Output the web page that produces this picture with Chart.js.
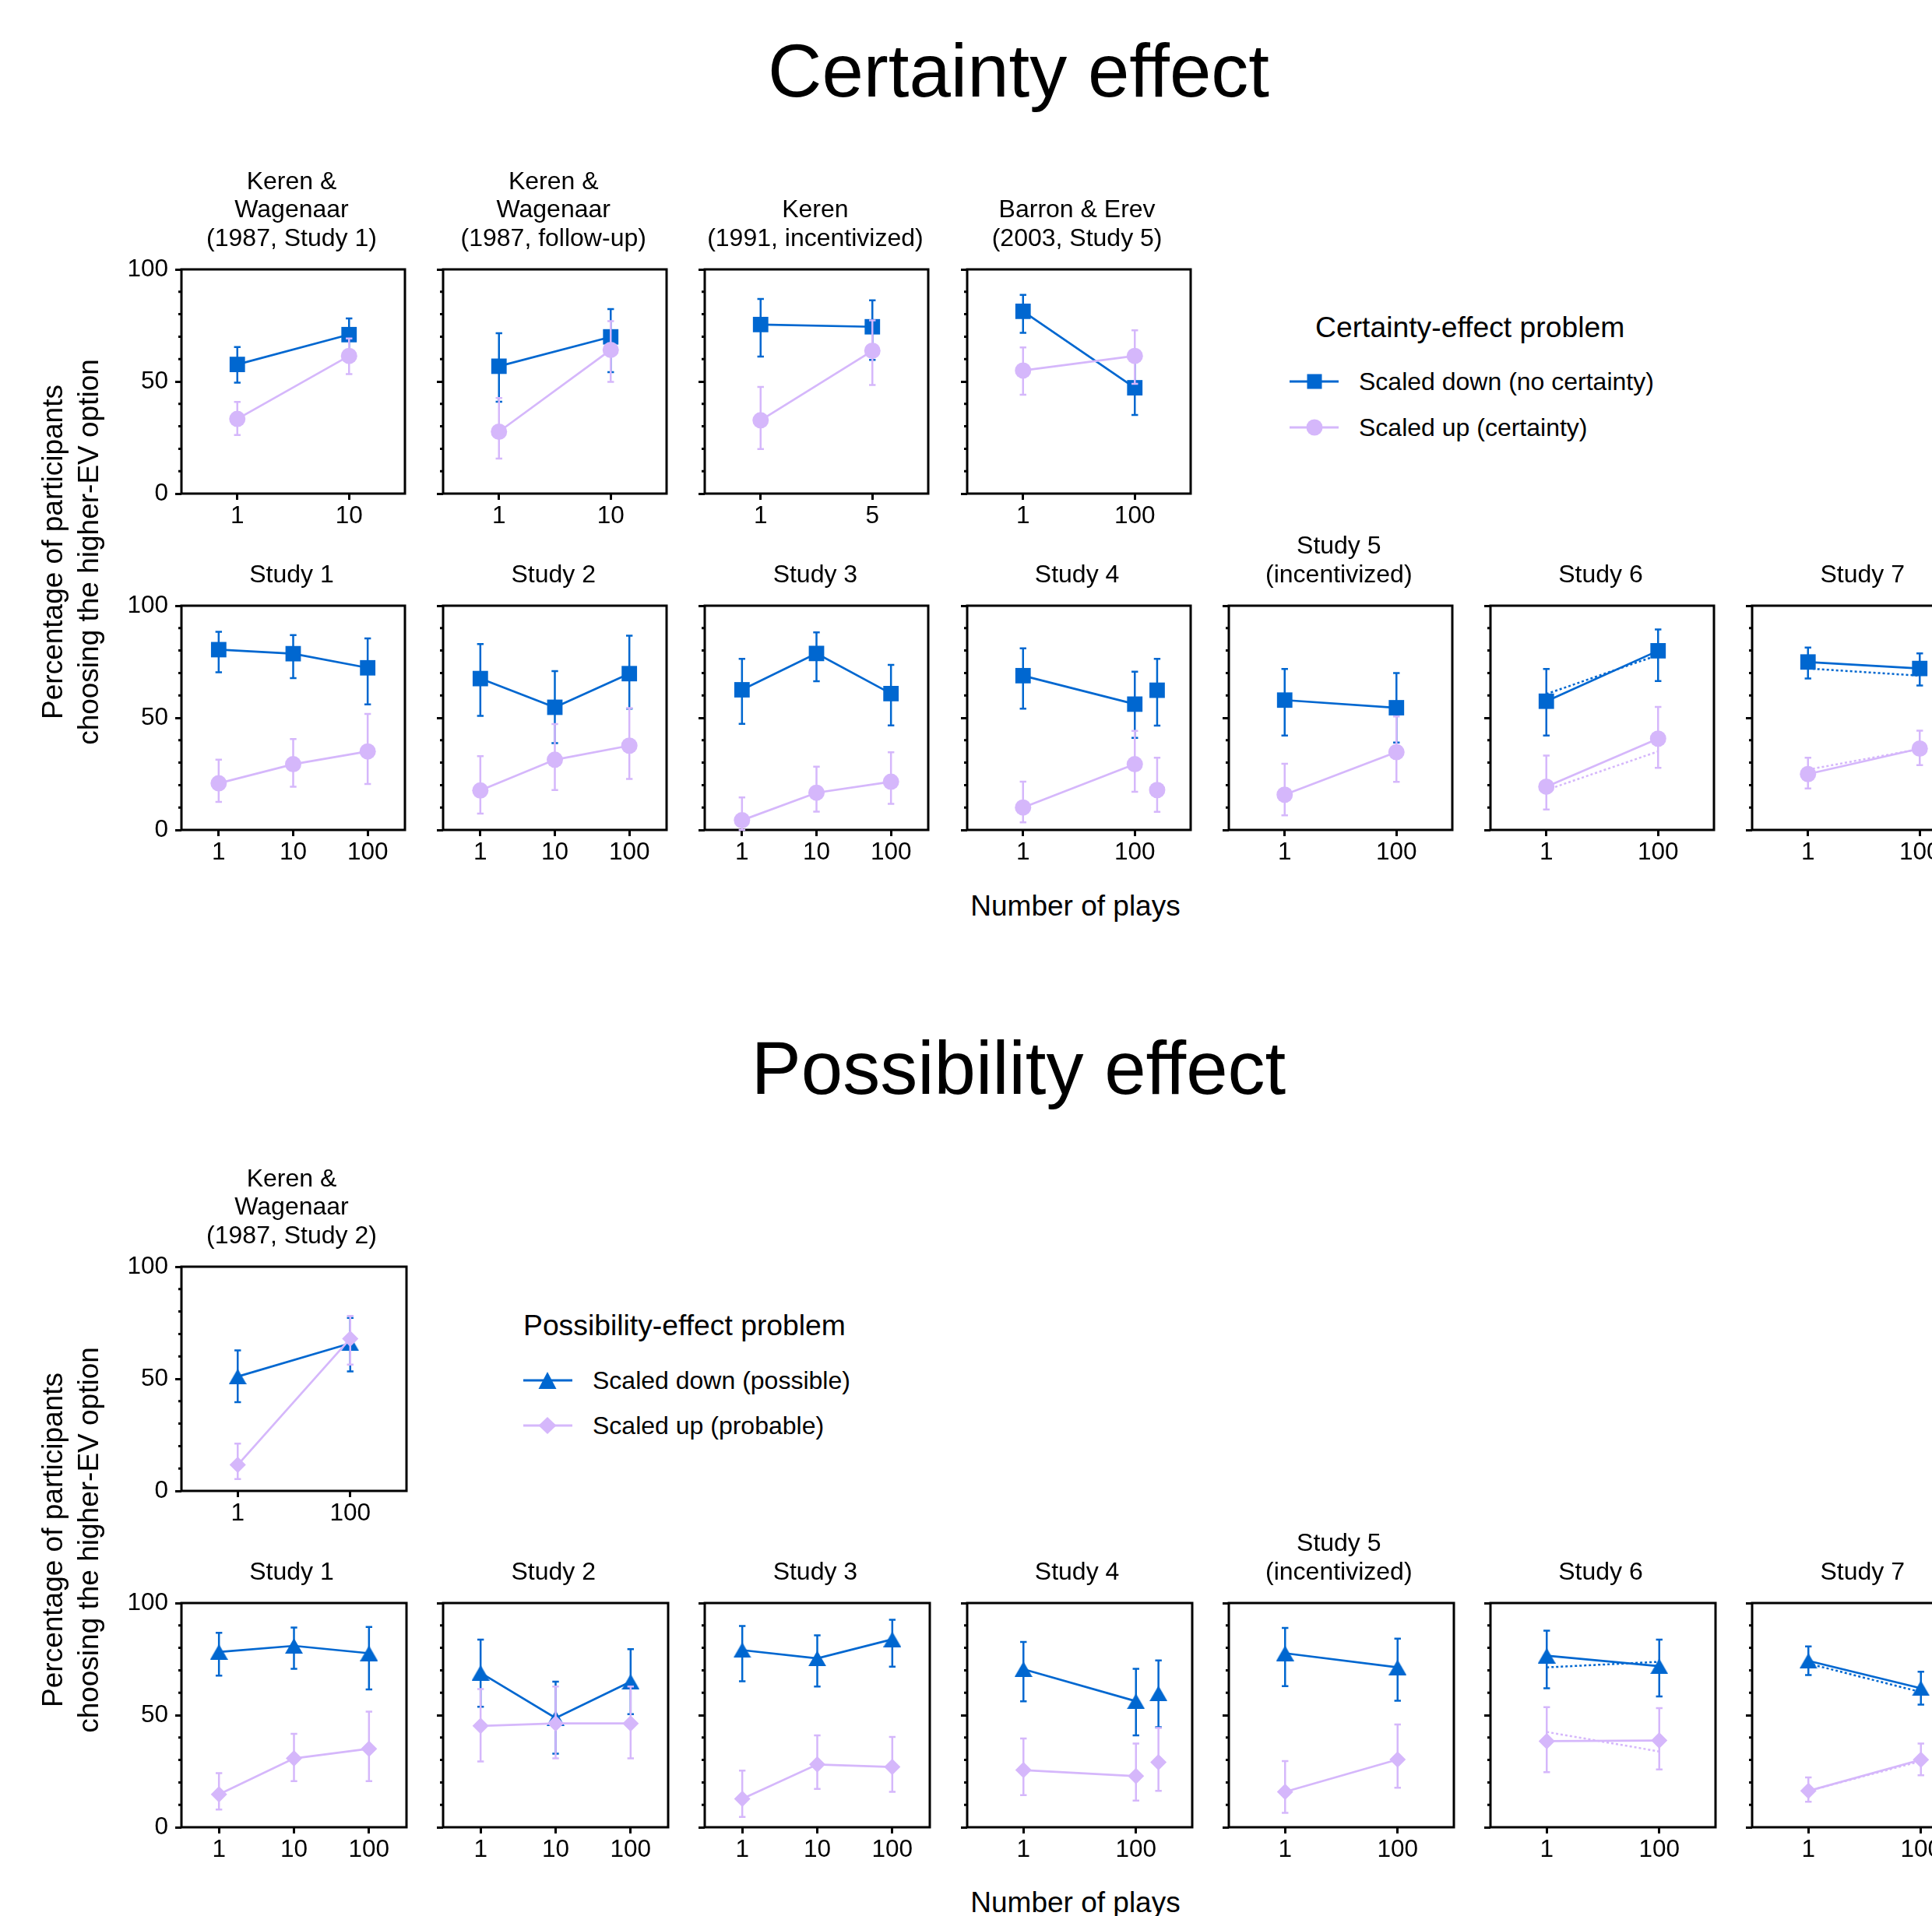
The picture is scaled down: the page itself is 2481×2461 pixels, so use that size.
<!DOCTYPE html>
<html><head><meta charset="utf-8">
<script src="https://cdn.jsdelivr.net/npm/chart.js@4.4.1/dist/chart.umd.min.js"></script>
<style>
html,body{margin:0;padding:0;width:2481px;height:2461px;overflow:hidden;background:#fff;font-family:'Liberation Sans',Arial,Helvetica,sans-serif;color:#000}
#root{position:relative;width:2481px;height:2461px;overflow:hidden}
.t{position:absolute;white-space:nowrap;text-align:center}
canvas{position:absolute}
svg{position:absolute}
</style></head><body><div id="root"></div>
<script>
// ---------------- DATA ----------------
const yTickValues = [0,10,20,30,40,50,60,70,80,90,100];
const yMajorTicks = [0,50,100];

// Certainty effect, earlier studies
const certTopTitles = [['Keren &','Wagenaar','(1987, Study 1)'],['Keren &','Wagenaar','(1987, follow-up)'],['Keren','(1991, incentivized)'],['Barron & Erev','(2003, Study 5)']];
const certTopTicks = [['1','10'],['1','10'],['1','5'],['1','100']];
const certTopDown   = [[57.6,70.9],[56.8,69.9],[75.4,74.4],[81.3,47.2]];
const certTopDownLo = [[49.5,63.7],[41.0,54.2],[61.1,59.6],[71.7,35.1]];
const certTopDownHi = [[65.4,78.1],[71.5,82.3],[86.8,86.2],[88.6,59.3]];
const certTopUp     = [[33.3,61.4],[27.6,64.1],[32.7,63.7],[54.9,61.4]];
const certTopUpLo   = [[26.1,53.3],[15.6,49.8],[19.9,48.4],[44.1,49.0]];
const certTopUpHi   = [[40.9,69.2],[42.6,76.9],[47.6,77.3],[65.2,72.8]];

// Own studies (shared facet titles and ticks)
const studyTitles = [['Study 1'],['Study 2'],['Study 3'],['Study 4'],['Study 5','(incentivized)'],['Study 6'],['Study 7']];
const studyTicks = [['1','10','100'],['1','10','100'],['1','10','100'],['1','100'],['1','100'],['1','100'],['1','100']];
const study4ExtraX = 3.4; // extra Study 4 condition, plotted just right of "100"

// Certainty effect, own studies
const certDown   = [[80.4,78.6,72.3],[67.5,54.7,69.7],[62.5,78.7,60.8],[68.8,56.1],[57.9,54.5],[57.4,79.9],[74.9,72.0]];
const certDownLo = [[70.3,67.7,56.0],[50.9,38.7,54.1],[47.3,66.3,46.6],[54.1,41.1],[42.1,39.0],[42.1,66.4],[67.5,64.4]];
const certDownHi = [[88.4,86.9,85.4],[82.9,70.8,86.6],[76.3,88.1,73.6],[81.0,70.6],[71.8,70.0],[71.8,89.4],[81.3,78.7]];
const certUp     = [[20.8,29.3,35.0],[17.6,31.3,37.6],[4.3,16.6,21.5],[10.0,29.3],[15.7,34.7],[19.3,40.7],[24.9,36.3]];
const certUpLo   = [[12.5,19.3,20.5],[7.3,17.8,22.7],[0.0,8.2,11.6],[3.4,17.0],[6.5,21.4],[9.1,27.7],[18.5,28.9]];
const certUpHi   = [[31.3,40.5,51.7],[32.9,47.2,54.3],[14.5,28.2,34.6],[21.5,44.2],[29.5,50.6],[33.2,54.9],[32.2,44.3]];
const certS4ExtraDown = [62.3], certS4ExtraDownLo = [46.5], certS4ExtraDownHi = [76.3];
const certS4ExtraUp = [17.8], certS4ExtraUpLo = [8.1], certS4ExtraUpHi = [32.2];
const certDottedDown = [null,null,null,null,null,[60.6,78.0],[72.0,68.8]];
const certDottedUp   = [null,null,null,null,null,[17.8,35.0],[26.9,36.1]];

// Possibility effect, earlier study
const possTopTitles = [['Keren &','Wagenaar','(1987, Study 2)']];
const possTopTicks = [['1','100']];
const possTopDown   = [[51.0,65.8]];
const possTopDownLo = [[39.6,53.3]];
const possTopDownHi = [[62.7,77.2]];
const possTopUp     = [[11.6,67.9]];
const possTopUpLo   = [[5.3,56.3]];
const possTopUpHi   = [[21.1,78.0]];

// Possibility effect, own studies
const possDown   = [[78.2,80.9,77.6],[68.9,48.7,64.9],[79.0,75.3,83.8],[70.5,56.2],[77.6,71.3],[76.5,71.8],[74.2,62.0]];
const possDownLo = [[67.6,70.7,61.5],[53.7,32.8,50.4],[65.1,62.8,71.6],[56.2,41.0],[62.9,56.4],[62.0,58.3],[67.9,54.7]];
const possDownHi = [[86.7,89.1,89.3],[83.7,64.9,79.4],[89.8,85.6,92.5],[82.6,70.7],[88.9,84.1],[87.7,83.7],[80.6,69.4]];
const possUp     = [[14.7,30.7,35.0],[45.2,46.3,46.3],[12.7,28.0,26.9],[25.5,22.8],[15.8,30.2],[38.4,38.7],[16.2,30.1]];
const possUpLo   = [[7.9,20.6,20.6],[29.3,30.7,30.7],[4.6,17.1,15.8],[14.3,11.9],[6.4,17.6],[24.6,25.8],[11.4,23.2]];
const possUpHi   = [[24.1,41.7,51.6],[61.6,62.8,62.8],[25.3,41.0,40.3],[39.6,37.3],[29.5,45.8],[53.6,53.1],[22.2,37.3]];
const possS4ExtraDown = [59.7], possS4ExtraDownLo = [44.6], possS4ExtraDownHi = [74.4];
const possS4ExtraUp = [29.0], possS4ExtraUpLo = [16.2], possS4ExtraUpHi = [44.3];
const possDottedDown = [null,null,null,null,null,[71.3,73.8],[73.0,60.3]];
const possDottedUp   = [null,null,null,null,null,[42.5,33.8],[16.2,29.5]];

// ---------------- STYLE / LAYOUT ----------------
const BLUE = '#0067d0', LAV = '#d5b7fb';
const FONT = "'Liberation Sans', Arial, Helvetica, sans-serif";
Chart.defaults.font.family = FONT;
Chart.defaults.color = '#000';
const PW = 289, PH = 288, YW = 120, PADT = 34, PADR = 12, XH = 60;
const TICKFONT = 31.5;
const colLeft = i => 233 + i * 336.2;
const root = document.getElementById('root');

function triCanvas(w, h, color) {
  const c = document.createElement('canvas'); c.width = w; c.height = h;
  const g = c.getContext('2d'); g.fillStyle = color;
  g.beginPath(); g.moveTo(w / 2, 0); g.lineTo(w, h); g.lineTo(0, h); g.closePath(); g.fill();
  return c;
}
const TRI = triCanvas(23, 20, BLUE);

const errPlugin = {
  id: 'errbars',
  beforeDatasetDraw(chart, args) {
    const ds = chart.data.datasets[args.index];
    if (!ds.errLo) return;
    const ctx = chart.ctx, ys = chart.scales.y;
    ctx.save();
    ctx.strokeStyle = ds.borderColor; ctx.lineWidth = 2.5;
    args.meta.data.forEach((pt, i) => {
      const lo = ds.errLo[i], hi = ds.errHi[i];
      if (lo == null || hi == null) return;
      const x = pt.x, y1 = ys.getPixelForValue(lo), y2 = ys.getPixelForValue(hi);
      ctx.beginPath();
      ctx.moveTo(x, y1); ctx.lineTo(x, y2);
      ctx.moveTo(x - 4.2, y1); ctx.lineTo(x + 4.2, y1);
      ctx.moveTo(x - 4.2, y2); ctx.lineTo(x + 4.2, y2);
      ctx.stroke();
    });
    ctx.restore();
  }
};
const framePlugin = {
  id: 'frame',
  beforeDatasetsDraw(chart) {
    const ctx = chart.ctx, a = chart.chartArea, ys = chart.scales.y;
    ctx.save();
    ctx.strokeStyle = '#000'; ctx.lineWidth = 3;
    ctx.strokeRect(a.left, a.top, a.right - a.left, a.bottom - a.top);
    ctx.beginPath();
    yTickValues.forEach(v => {
      if (yMajorTicks.includes(v)) return;
      const y = ys.getPixelForValue(v);
      ctx.moveTo(a.left - 4, y); ctx.lineTo(a.left, y);
    });
    ctx.stroke();
    ctx.restore();
  }
};

function addText(lines, cx, cyLast, size, lh) {
  const d = document.createElement('div');
  d.className = 't';
  d.style.left = (cx - 1000) + 'px'; d.style.width = '2000px';
  d.style.fontSize = size + 'px'; d.style.lineHeight = lh + 'px';
  d.style.top = (cyLast - lh / 2 - (lines.length - 1) * lh) + 'px';
  d.innerHTML = lines.map(s => s.replace(/&/g, '&amp;')).join('<br>');
  root.appendChild(d);
}

function series(vals, lo, hi, color, style, radius, order, x0, showLine) {
  return {
    data: vals.map((v, i) => ({x: (x0 != null ? x0 : 2 * i + 1), y: v})),
    errLo: lo, errHi: hi,
    borderColor: color, backgroundColor: color, borderWidth: 2.7,
    pointStyle: style, pointRadius: radius, pointBorderWidth: 0,
    pointBackgroundColor: color, pointBorderColor: color,
    showLine: showLine !== false, order: order, clip: false, tension: 0
  };
}
function dotted(vals, color, order) {
  return {
    data: vals.map((v, i) => ({x: 2 * i + 1, y: v})),
    borderColor: color, borderWidth: 2.5, borderDash: [3, 3],
    pointRadius: 0, showLine: true, order: order, clip: false
  };
}

function makePanel(L, T, ticks, datasets, yLabels, title) {
  const cv = document.createElement('canvas');
  const W = YW + PW + PADR, H = PADT + PH + XH;
  cv.width = W; cv.height = H;
  cv.style.left = (L - YW) + 'px'; cv.style.top = (T - PADT) + 'px';
  cv.style.width = W + 'px'; cv.style.height = H + 'px';
  root.appendChild(cv);
  const tickPos = ticks.map((_, i) => 2 * i + 1);
  new Chart(cv.getContext('2d'), {
    type: 'line',
    data: {datasets},
    options: {
      responsive: false, animation: false, devicePixelRatio: 1,
      layout: {padding: {top: PADT, right: PADR, left: 0, bottom: 0}},
      plugins: {legend: {display: false}, tooltip: {enabled: false}, title: {display: false}},
      scales: {
        x: {
          type: 'linear', min: 0, max: 2 * ticks.length,
          afterBuildTicks: s => { s.ticks = tickPos.map(v => ({value: v})); },
          afterFit: s => { s.height = XH; },
          grid: {drawOnChartArea: false, tickLength: 8, tickWidth: 3, tickColor: '#000'},
          border: {display: false},
          ticks: {callback: (v, i) => ticks[i], font: {size: TICKFONT}, color: '#000', padding: 2, maxRotation: 0, autoSkip: false}
        },
        y: {
          type: 'linear', min: 0, max: 100,
          afterBuildTicks: s => { s.ticks = yTickValues.map(v => ({value: v})); },
          afterFit: s => { s.width = YW; },
          grid: {drawOnChartArea: false, tickLength: 8, tickWidth: 3,
                 tickColor: c => (c.tick && yMajorTicks.includes(c.tick.value)) ? '#000' : 'rgba(0,0,0,0)'},
          border: {display: false},
          ticks: {callback: v => (yLabels && yMajorTicks.includes(v)) ? String(v) : '', font: {size: TICKFONT}, color: '#000', padding: 9, autoSkip: false}
        }
      }
    },
    plugins: [errPlugin, framePlugin]
  });
  addText(title, L + PW / 2 - 3, T - 41, 32, 36.5);
}

function buildSection(top1, top2, t1Titles, t1Ticks, t1Down, t1DownLo, t1DownHi, t1Up, t1UpLo, t1UpHi,
                      down, downLo, downHi, up, upLo, upHi, exDown, exDownLo, exDownHi, exUp, exUpLo, exUpHi,
                      dotDown, dotUp, downStyle, downR, upStyle, upR) {
  t1Titles.forEach((tt, i) => {
    makePanel(colLeft(i), top1, t1Ticks[i], [
      series(t1Down[i], t1DownLo[i], t1DownHi[i], BLUE, downStyle, downR, 3),
      series(t1Up[i], t1UpLo[i], t1UpHi[i], LAV, upStyle, upR, 1)
    ], i === 0, tt);
  });
  studyTitles.forEach((tt, i) => {
    const ds = [];
    if (dotDown[i]) ds.push(dotted(dotDown[i], BLUE, 4));
    if (dotUp[i]) ds.push(dotted(dotUp[i], LAV, 2));
    ds.push(series(down[i], downLo[i], downHi[i], BLUE, downStyle, downR, 3));
    ds.push(series(up[i], upLo[i], upHi[i], LAV, upStyle, upR, 1));
    if (i === 3) {
      ds.push(series(exDown, exDownLo, exDownHi, BLUE, downStyle, downR, 3, study4ExtraX, false));
      ds.push(series(exUp, exUpLo, exUpHi, LAV, upStyle, upR, 1, study4ExtraX, false));
    }
    makePanel(colLeft(i), top2, studyTicks[i], ds, i === 0, tt);
  });
}

buildSection(346, 778, certTopTitles, certTopTicks, certTopDown, certTopDownLo, certTopDownHi, certTopUp, certTopUpLo, certTopUpHi,
  certDown, certDownLo, certDownHi, certUp, certUpLo, certUpHi,
  certS4ExtraDown, certS4ExtraDownLo, certS4ExtraDownHi, certS4ExtraUp, certS4ExtraUpLo, certS4ExtraUpHi,
  certDottedDown, certDottedUp, 'rect', 14, 'circle', 10.5);

buildSection(1627, 2059, possTopTitles, possTopTicks, possTopDown, possTopDownLo, possTopDownHi, possTopUp, possTopUpLo, possTopUpHi,
  possDown, possDownLo, possDownHi, possUp, possUpLo, possUpHi,
  possS4ExtraDown, possS4ExtraDownLo, possS4ExtraDownHi, possS4ExtraUp, possS4ExtraUpLo, possS4ExtraUpHi,
  possDottedDown, possDottedUp, TRI, 11, 'rectRot', 10.5);

// ---------------- TEXT ----------------
addText(['Certainty effect'], 1308, 90, 96, 115);
addText(['Possibility effect'], 1308, 1371, 96, 115);
addText(['Number of plays'], 1381, 1164, 37, 44);
addText(['Number of plays'], 1381, 2444, 37, 44);

function yTitle(cx, cy) {
  const d = document.createElement('div');
  d.className = 't';
  d.style.width = '800px'; d.style.height = '92px';
  d.style.left = (cx - 400) + 'px'; d.style.top = (cy - 46) + 'px';
  d.style.fontSize = '37px'; d.style.lineHeight = '46px';
  d.style.transform = 'rotate(-90deg)';
  d.innerHTML = 'Percentage of participants<br>choosing the higher-EV option';
  root.appendChild(d);
}
yTitle(91, 709);
yTitle(91, 1978);

function legendIcon(x1, x2, mx, cy, color, shape) {
  const ns = 'http://www.w3.org/2000/svg';
  const s = document.createElementNS(ns, 'svg');
  const ox = x1 - 5, oy = cy - 20;
  s.setAttribute('width', (x2 - x1 + 10)); s.setAttribute('height', 40);
  s.style.left = ox + 'px'; s.style.top = oy + 'px';
  const ln = document.createElementNS(ns, 'line');
  ln.setAttribute('x1', x1 - ox); ln.setAttribute('x2', x2 - ox); ln.setAttribute('y1', 20); ln.setAttribute('y2', 20);
  ln.setAttribute('stroke', color); ln.setAttribute('stroke-width', 3);
  s.appendChild(ln);
  const m = mx - ox;
  let el;
  if (shape === 'rect') { el = document.createElementNS(ns, 'rect'); el.setAttribute('x', m - 9.5); el.setAttribute('y', 10.5); el.setAttribute('width', 19); el.setAttribute('height', 19); }
  else if (shape === 'circle') { el = document.createElementNS(ns, 'circle'); el.setAttribute('cx', m); el.setAttribute('cy', 20); el.setAttribute('r', 10.5); }
  else if (shape === 'tri') { el = document.createElementNS(ns, 'polygon'); el.setAttribute('points', `${m},9 ${m + 11.5},31 ${m - 11.5},31`); }
  else { el = document.createElementNS(ns, 'polygon'); el.setAttribute('points', `${m},9 ${m + 11.5},20 ${m},31 ${m - 11.5},20`); }
  el.setAttribute('fill', color);
  s.appendChild(el);
  root.appendChild(s);
}
function leftText(txt, x, cy, size) {
  const d = document.createElement('div');
  d.style.position = 'absolute'; d.style.whiteSpace = 'nowrap';
  d.style.left = x + 'px'; d.style.top = (cy - size * 0.6) + 'px';
  d.style.fontSize = size + 'px'; d.style.lineHeight = (size * 1.2) + 'px';
  d.textContent = txt;
  root.appendChild(d);
}
// Certainty legend
leftText('Certainty-effect problem', 1689, 420, 37.3);
legendIcon(1656, 1719, 1688, 490, BLUE, 'rect');
leftText('Scaled down (no certainty)', 1745, 490, 32);
legendIcon(1656, 1719, 1688, 549, LAV, 'circle');
leftText('Scaled up (certainty)', 1745, 549, 32);
// Possibility legend
leftText('Possibility-effect problem', 672, 1702, 37.3);
legendIcon(672, 735, 703, 1773, BLUE, 'tri');
leftText('Scaled down (possible)', 761, 1773, 32);
legendIcon(672, 735, 703, 1831, LAV, 'diamond');
leftText('Scaled up (probable)', 761, 1831, 32);
</script></body></html>
